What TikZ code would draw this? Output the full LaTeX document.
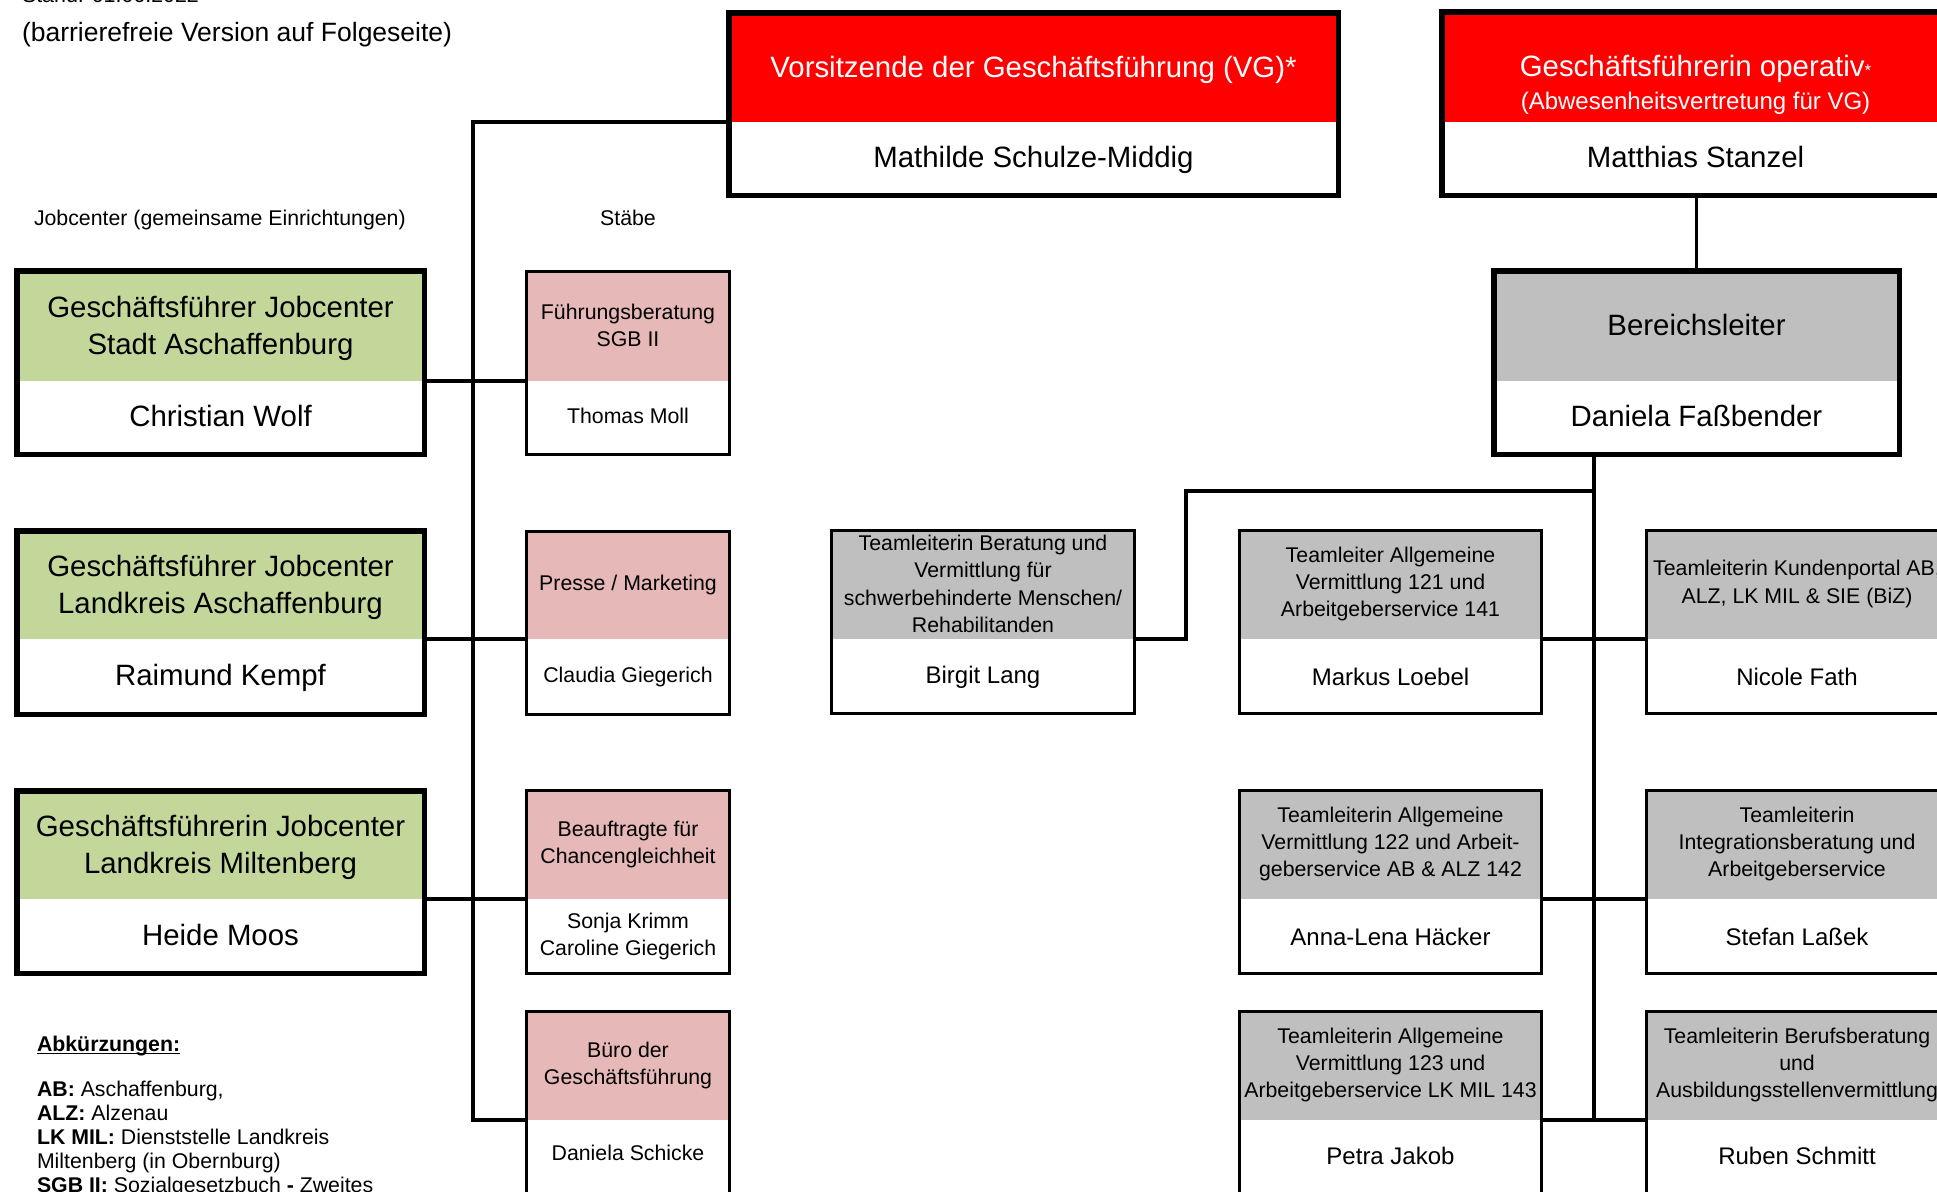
\documentclass[tikz,border=0pt]{standalone}
\usepackage{fontspec}
\setmainfont{Liberation Sans}
\definecolor{vgred}{HTML}{FF0000}
\definecolor{jcgreen}{HTML}{C4D79B}
\definecolor{stpink}{HTML}{E6B8B7}
\definecolor{tlgray}{HTML}{BFBFBF}
\newcommand\fs[2]{\fontsize{#1pt}{#2pt}\selectfont}
\newcommand\dn[1]{\rule{0pt}{#1pt}}
\def\lwred{5.5}\def\lwgfo{5.5}\def\lwgreen{5.5}\def\lwbl{5.5}
\def\lwpink{3}\def\lwpinkl{3}\def\lwteam{3}\def\lwteaml{3}
\tikzset{
  hd/.style={inner sep=0pt, outer sep=0pt, align=center, anchor=center},
  bd/.style={hd, fill=none},
  bigdepth/.style={execute at begin node={\rule[-6.2pt]{0pt}{0pt}}},
  smalldepth/.style={execute at begin node={\rule[-4.5pt]{0pt}{0pt}}},
  redh/.style={hd, fill=vgred, text=white, font=\fs{29.4}{37}},
  redb/.style={bd, font=\fs{29.4}{37}, bigdepth},
  gfoh/.style={hd, fill=vgred, text=white, font=\fs{29.4}{33}},
  gfob/.style={bd, font=\fs{29.4}{37}, bigdepth},
  greenh/.style={hd, fill=jcgreen, font=\fs{29.4}{37}},
  greenb/.style={bd, font=\fs{29.4}{37}, bigdepth},
  blh/.style={hd, fill=tlgray, font=\fs{29.4}{37}},
  blb/.style={bd, font=\fs{29.4}{37}, bigdepth},
  pinkh/.style={hd, fill=stpink, font=\fs{21.3}{27}},
  pinkb/.style={bd, font=\fs{21.3}{27}, smalldepth},
  pinklh/.style={pinkh},
  pinklb/.style={pinkb, yshift=3.5pt},
  teamh/.style={hd, fill=tlgray, font=\fs{21.3}{27.3}},
  teamb/.style={bd, font=\fs{24}{30}},
  teamlh/.style={teamh},
  teamlb/.style={teamb, yshift=3.5pt},
  frame/.style={draw=black},
  link/.style={draw=black, line width=3.5pt},
  plain/.style={inner sep=0pt, outer sep=0pt},
  small/.style={plain, font=\fs{21.3}{26}},
}
% #1 name, #2 x-left, #3 y-top, #4 x-right, #5 y-divider, #6 y-bottom, #7 kind, #8 header, #9 body
\newcommand\obox[9]{%
  \node[#7h, minimum width={(#4-#2)*1pt}, minimum height={(#5-#3)*1pt}] (#1-h) at ({(#2+#4)/2},{(#3+#5)/2}) {#8};
  \node[#7b, minimum width={(#4-#2)*1pt}, minimum height={(#6-#5)*1pt}] (#1-b) at ({(#2+#4)/2},{(#5+#6)/2}) {#9};
  \pgfmathsetmacro\obw{\csname lw#7\endcsname}
  \draw[frame, line width=\obw pt] ({#2+\obw/2},{#3+\obw/2}) rectangle ({#4-\obw/2},{#6-\obw/2});
}
\begin{document}
\begin{tikzpicture}[x=1pt, y=-1pt]
\useasboundingbox (0,0) rectangle (1937,1191);
\clip (0,0) rectangle (1937,1191);
\fill[white] (0,0) rectangle (1937,1191);

% texts
\node[plain, anchor=base west, font=\fs{21.4}{26}] (stand) at (22,2) {Stand: 01.06.2022};
\node[plain, anchor=base west, font=\fs{26.5}{32}] (hint) at (22,41) {(barrierefreie Version auf Folgeseite)};
\node[small, anchor=base west] (jc) at (34,225) {Jobcenter (gemeinsame Einrichtungen)};
\node[small, anchor=base] (staebe) at (628,225) {Stäbe};

\node[small, anchor=base west] (abk) at (37,1051) {\textbf{Abkürzungen:}};
\draw[line width=1.6pt] ([yshift=-2.5pt]abk.base west) -- ([yshift=-2.5pt]abk.base east);
\node[small, anchor=base west] (abk1) at (37,1096) {\textbf{AB:} Aschaffenburg,};
\node[small, anchor=base west] (abk2) at (37,1120) {\textbf{ALZ:} Alzenau};
\node[small, anchor=base west] (abk3) at (37,1144) {\textbf{LK MIL:} Dienststelle Landkreis};
\node[small, anchor=base west] (abk4) at (37,1168) {Miltenberg (in Obernburg)};
\node[small, anchor=base west] (abk5) at (37,1192) {\textbf{SGB II:} Sozialgesetzbuch \textbf{-} Zweites};

% top management
\obox{vg}{726}{10}{1341}{122}{198}{red}{\dn{30}Vorsitzende der Geschäftsführung (VG)*}{Mathilde Schulze-Middig}
\obox{gfo}{1439}{9}{1952}{122}{198}{gfo}{\dn{60}Geschäftsführerin operativ{\fs{17}{17}*}\\{\fs{24}{33}(Abwesenheitsvertretung für VG)}}{Matthias Stanzel}
\obox{bl}{1491}{268}{1902}{381}{457}{bl}{Bereichsleiter}{Daniela Faßbender}

% jobcenter
\obox{g1}{14}{268}{427}{381}{457}{green}{\dn{30}Geschäftsführer Jobcenter\\Stadt Aschaffenburg}{Christian Wolf}
\obox{g2}{14}{528}{427}{639}{717}{green}{\dn{30}Geschäftsführer Jobcenter\\Landkreis Aschaffenburg}{Raimund Kempf}
\obox{g3}{14}{788}{427}{899}{976}{green}{\dn{30}Geschäftsführerin Jobcenter\\Landkreis Miltenberg}{Heide Moos}

% staebe
\obox{p1}{525}{270}{731}{381}{456}{pink}{Führungsberatung\\SGB II}{Thomas Moll}
\obox{p2}{525}{530}{731}{639}{716}{pink}{Presse / Marketing}{Claudia Giegerich}
\obox{p3}{525}{789}{731}{899}{975}{pink}{Beauftragte für\\Chancengleichheit}{Sonja Krimm\\Caroline Giegerich}
\obox{p4}{525}{1010}{731}{1120}{1198}{pinkl}{Büro der\\Geschäftsführung}{Daniela Schicke}

% teams
\obox{bi}{830}{529}{1136}{639}{715}{team}{Teamleiterin Beratung und\\Vermittlung für\\schwerbehinderte Menschen/\\Rehabilitanden}{Birgit Lang}
\obox{ml}{1238}{529}{1543}{639}{715}{team}{Teamleiter Allgemeine\\Vermittlung 121 und\\Arbeitgeberservice 141}{Markus Loebel}
\obox{nf}{1645}{529}{1949}{639}{715}{team}{Teamleiterin Kundenportal AB,\\ALZ, LK MIL \& SIE (BiZ)}{Nicole Fath}
\obox{al}{1238}{789}{1543}{899}{975}{team}{Teamleiterin Allgemeine\\Vermittlung 122 und Arbeit-\\geberservice AB \& ALZ 142}{Anna-Lena Häcker}
\obox{sl}{1645}{789}{1949}{899}{975}{team}{Teamleiterin\\Integrationsberatung und\\Arbeitgeberservice}{Stefan Laßek}
\obox{pj}{1238}{1010}{1543}{1120}{1198}{teaml}{Teamleiterin Allgemeine\\Vermittlung 123 und\\Arbeitgeberservice LK MIL 143}{Petra Jakob}
\obox{rs}{1645}{1010}{1949}{1120}{1198}{teaml}{Teamleiterin Berufsberatung\\und\\Ausbildungsstellenvermittlung}{Ruben Schmitt}

% connectors left
\coordinate (spineL) at (473,1120);
\draw[link] (vg-h.south west) -| (spineL) -- (p4-h.south west);
\draw[link] (g1-h.south east) -- (p1-h.south west);
\draw[link] (g2-h.south east) -- (p2-h.south west);
\draw[link] (g3-h.south east) -- (p3-h.south west);

% connectors right
\draw[link] (gfo-b.south -| bl-h.north) -- (bl-h.north);
\coordinate (spineR) at (1594,1120);
\draw[link] (bl-b.south -| spineR) -- (spineR);
\coordinate (jog) at (1186,491);
\draw[link] (bi-h.south east) -| (jog) -- (jog -| spineR);
\draw[link] (ml-h.south east) -- (nf-h.south west);
\draw[link] (al-h.south east) -- (sl-h.south west);
\draw[link] (pj-h.south east) -- (rs-h.south west);
\end{tikzpicture}
\end{document}
